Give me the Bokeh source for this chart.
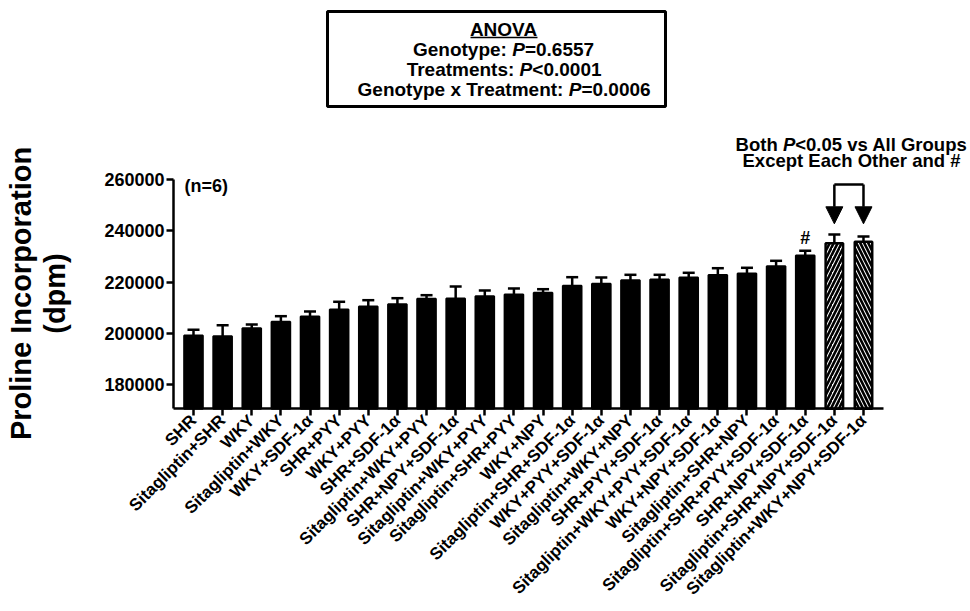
import math
from bokeh.plotting import figure
from bokeh.models import (Range1d, FixedTicker, Label, BoxAnnotation, Arrow,
                          NormalHead, TeeHead, Whisker, ColumnDataSource)
from bokeh.embed import file_html
from bokeh.resources import INLINE

# ---------------- data ----------------
groups = [
    "SHR", "Sitagliptin+SHR", "WKY", "Sitagliptin+WKY", "WKY+SDF-1α",
    "SHR+PYY", "WKY+PYY", "SHR+SDF-1α", "Sitagliptin+WKY+PYY",
    "SHR+NPY+SDF-1α", "Sitagliptin+WKY+PYY", "Sitagliptin+SHR+PYY",
    "WKY+NPY", "Sitagliptin+SHR+SDF-1α", "WKY+PYY+SDF-1α",
    "Sitagliptin+WKY+NPY", "SHR+PYY+SDF-1α", "Sitagliptin+WKY+PYY+SDF-1α",
    "WKY+NPY+SDF-1α", "Sitagliptin+SHR+NPY", "Sitagliptin+SHR+PYY+SDF-1α",
    "SHR+NPY+SDF-1α", "Sitagliptin+SHR+NPY+SDF-1α", "Sitagliptin+WKY+NPY+SDF-1α",
]
means = [199240, 198970, 202080, 204570, 206640, 209370, 210540, 211430,
         213530, 213650, 214550, 215210, 215870, 218600, 219380, 220780,
         221050, 221830, 222800, 223390, 226230, 230400, 235190, 235730]
sem = [2220, 4280, 1440, 2190, 1950, 3000, 2450, 2340,
       1410, 4670, 2220, 2340, 1400, 3350, 2450, 2100,
       1830, 1830, 2650, 2220, 2100, 1830, 3390, 2070]
y_ticks = [180000, 200000, 220000, 240000, 260000]
y_min, y_max = 170700, 260000          # extent of the value axis
x_min, x_max = 0.3134, 24.687          # extent of the category axis

positions = list(range(1, len(groups) + 1))
upper = [m + s for m, s in zip(means, sem)]

FONT = "Liberation Sans"

# The frame covers the whole canvas so that the header texts are not clipped;
# the axes are drawn at fixed locations and limited by their bounds.
p = figure(width=968, height=610,
           x_range=Range1d(-5.6255, 27.605), y_range=Range1d(92124, 329720),
           output_backend="svg", toolbar_location=None, min_border=0)
p.outline_line_color = None
p.grid.visible = False

n_solid = 22
solid = ColumnDataSource(dict(x=positions[:n_solid], top=means[:n_solid]))
p.vbar(x="x", top="top", bottom=y_min, width=0.64, source=solid,
       fill_color="black", line_color="black", line_width=2)

hatch1 = ColumnDataSource(dict(x=positions[22:23], top=means[22:23]))
hatch2 = ColumnDataSource(dict(x=positions[23:24], top=means[23:24]))
for src, pat in ((hatch1, "/"), (hatch2, "\\")):
    p.vbar(x="x", top="top", bottom=y_min, width=0.6, source=src,
           fill_color="white", line_color="black", line_width=2.5,
           hatch_pattern=pat, hatch_color="black", hatch_weight=2.6,
           hatch_scale=8)

err = ColumnDataSource(dict(x=positions, lower=means, upper=upper))
p.add_layout(Whisker(base="x", lower="lower", upper="upper", source=err,
                     line_width=2.5, line_color="black",
                     upper_head=TeeHead(size=12, line_width=2.5, line_color="black"),
                     lower_head=None))

# ---------------- axes ----------------
xa = p.xaxis[0]
xa.fixed_location = y_min
xa.bounds = (x_min, x_max)
xa.ticker = FixedTicker(ticks=positions)
xa.major_label_overrides = {i: g for i, g in zip(positions, groups)}
xa.major_label_orientation = math.pi / 4
xa.major_label_text_font = FONT
xa.major_label_text_font_style = "bold"
xa.major_label_text_font_size = "17px"
xa.major_label_text_color = "black"
xa.major_label_standoff = 2
xa.axis_line_width = 2.5
xa.major_tick_line_width = 2.5
xa.major_tick_out = 7
xa.major_tick_in = 0
xa.minor_tick_line_color = None

ya = p.yaxis[0]
ya.fixed_location = x_min
ya.bounds = (y_min, y_max)
ya.ticker = FixedTicker(ticks=y_ticks)
ya.formatter.use_scientific = False
ya.major_label_text_font = FONT
ya.major_label_text_font_style = "bold"
ya.major_label_text_font_size = "18px"
ya.major_label_text_color = "black"
ya.major_label_standoff = 2
ya.axis_line_width = 2.5
ya.major_tick_line_width = 2.5
ya.major_tick_out = 7
ya.major_tick_in = 0
ya.minor_tick_line_color = None


def lab(x, y, text, size="18px", style="bold", align="left", angle=0.0):
    p.add_layout(Label(x=x, y=y, text=text, text_font=FONT,
                       text_font_style=style, text_font_size=size,
                       text_color="black", text_align=align,
                       text_baseline="alphabetic", angle=angle))


# value axis title
lab(-4.92, 215597, "Proline Incorporation", size="29px", align="center",
    angle=math.pi / 2)
lab(-3.77, 215597, "(dpm)", size="29px", align="center", angle=math.pi / 2)

lab(0.691, 257273, "(n=6)")

# ANOVA box
p.add_layout(BoxAnnotation(left=5.600, right=17.203, bottom=288434, top=325436,
                           fill_color=None, fill_alpha=0, line_color="black",
                           line_alpha=1, line_width=3))
lab(11.642, 318425, "ANOVA", size="19px", align="center")
p.add_layout(Arrow(x_start=10.509, y_start=315309, x_end=12.809, y_end=315309,
                   start=None, end=None, line_width=1.5, line_color="black"))
lab(11.941, 310440, "Genotype: ", size="19px", align="right")
lab(11.941, 310440, "P", size="19px", style="bold italic")
lab(12.377, 310440, "=0.6557", size="19px")
lab(12.195, 302845, "Treatments: ", size="19px", align="right")
lab(12.195, 302845, "P", size="19px", style="bold italic")
lab(12.631, 302845, "<0.0001", size="19px")
lab(13.880, 295055, "Genotype x Treatment: ", size="19px", align="right")
lab(13.880, 295055, "P", size="19px", style="bold italic")
lab(14.316, 295055, "=0.0006", size="19px")

# significance note
lab(21.233, 273438, "Both ", size="18.5px", align="right")
lab(21.233, 273438, "P", size="18.5px", style="bold italic")
lab(21.656, 273438, "<0.05 vs All Groups", size="18.5px")
lab(23.588, 267206, "Except Each Other and #", size="18.5px", align="center")
lab(22, 237331, "#", size="18px", align="center")

p.add_layout(Arrow(x_start=23, y_start=258053, x_end=24, y_end=258053,
                   start=None, end=None, line_width=2.5, line_color="black"))
for xx in (23, 24):
    p.add_layout(Arrow(x_start=xx, y_start=258053, x_end=xx, y_end=242745,
                       start=None,
                       end=NormalHead(size=17, fill_color="black", line_color="black"),
                       line_width=2.5, line_color="black"))

open("out.html", "w").write(file_html(p, INLINE))
